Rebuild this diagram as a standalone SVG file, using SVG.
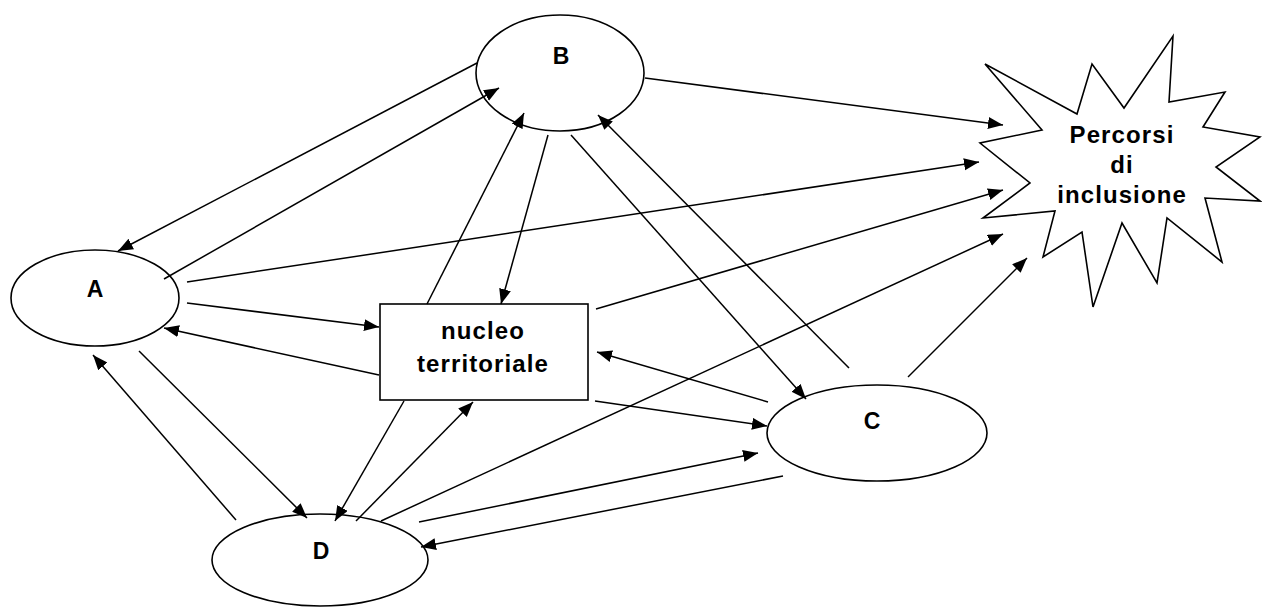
<svg xmlns="http://www.w3.org/2000/svg" width="1262" height="607" viewBox="0 0 1262 607">
<style>
.shape{fill:#fff;stroke:#000;stroke-width:1.6}
.lbl{font-family:"Liberation Sans",Arial,sans-serif;font-weight:bold;font-size:23px;fill:#000;text-anchor:middle}
.big{font-size:24px;letter-spacing:1.1px}
.conn line{stroke:#000;stroke-width:1.5;marker-end:url(#ah)}
</style>
<defs>
<marker id="ah" markerUnits="userSpaceOnUse" markerWidth="16" markerHeight="13" refX="15" refY="6" orient="auto">
<path d="M0,0 L15,6 L0,12 z" fill="#000"/>
</marker>
</defs>
<rect width="1262" height="607" fill="#fff"/>
<g id="nodeP">
<polygon class="shape" points="1173,36 1169,102 1225,92 1203,127 1260,137 1216,167 1260,201 1205,198 1222,262 1167,218 1157,283 1122,223 1093,307 1082,232 1043,257 1055,211 983,218 1030,183 980,143 1042,130 985,64 1077,114 1092,64 1124,108"/>
<text class="lbl big" x="1122" y="143">Percorsi</text>
<text class="lbl big" x="1122" y="173">di</text>
<text class="lbl big" x="1122" y="203">inclusione</text>
</g>
<g id="nodeB">
<ellipse class="shape" cx="560" cy="73" rx="84" ry="58"/>
<text class="lbl" x="561" y="64">B</text>
</g>
<g id="nodeA">
<ellipse class="shape" cx="95" cy="298" rx="84" ry="48"/>
<text class="lbl" x="95" y="297">A</text>
</g>
<g id="nodeN">
<rect class="shape" x="380" y="304" width="208" height="96"/>
<text class="lbl big" x="483" y="339">nucleo</text>
<text class="lbl big" x="483" y="372">territoriale</text>
</g>
<g id="nodeC">
<ellipse class="shape" cx="877" cy="433" rx="110" ry="48"/>
<text class="lbl" x="872" y="429">C</text>
</g>
<g id="nodeD">
<ellipse class="shape" cx="320" cy="560" rx="108" ry="46"/>
<text class="lbl" x="321" y="559">D</text>
</g>
<g id="connectors" class="conn">
<line x1="477" y1="63" x2="118" y2="251"/>
<line x1="164" y1="279" x2="499" y2="88"/>
<line x1="645" y1="78" x2="1003" y2="125"/>
<line x1="187" y1="282" x2="979" y2="162"/>
<line x1="187" y1="303" x2="379" y2="327"/>
<line x1="379" y1="375" x2="164" y2="328"/>
<line x1="236" y1="520" x2="93" y2="355"/>
<line x1="139" y1="351" x2="307" y2="518"/>
<line x1="427" y1="304" x2="524" y2="113"/>
<line x1="548" y1="135" x2="501" y2="304"/>
<line x1="571" y1="135" x2="806" y2="399"/>
<line x1="849" y1="368" x2="598" y2="115"/>
<line x1="596" y1="309" x2="1003" y2="190"/>
<line x1="768" y1="402" x2="597" y2="352"/>
<line x1="595" y1="401" x2="767" y2="426"/>
<line x1="381" y1="521" x2="1003" y2="234"/>
<line x1="908" y1="377" x2="1027" y2="258"/>
<line x1="404" y1="401" x2="335" y2="521"/>
<line x1="356" y1="521" x2="473" y2="402"/>
<line x1="419" y1="522" x2="758" y2="453"/>
<line x1="783" y1="476" x2="421" y2="547"/>
</g>
</svg>
